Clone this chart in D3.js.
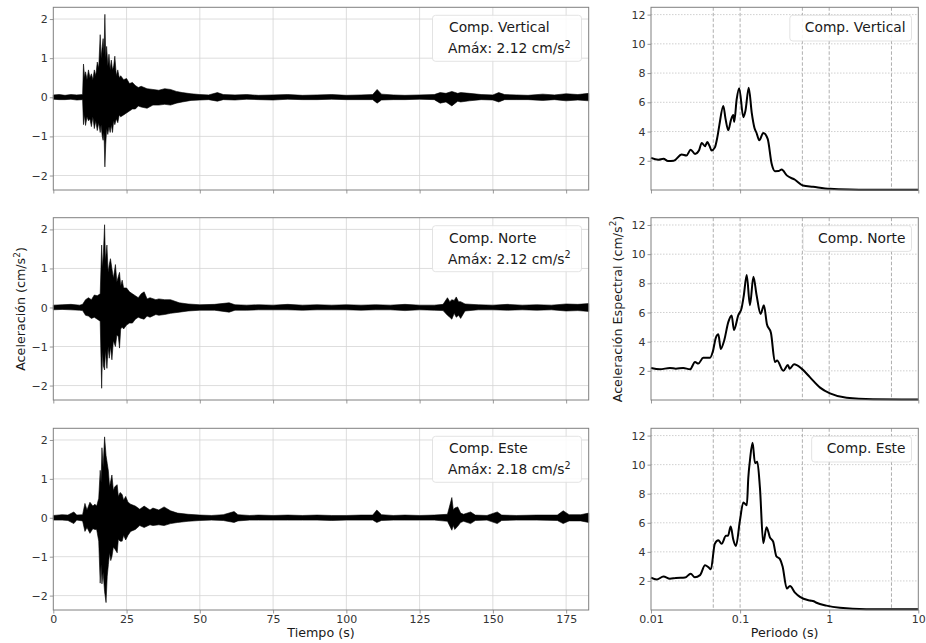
<!DOCTYPE html>
<html>
<head>
<meta charset="utf-8">
<script src="https://cdn.jsdelivr.net/npm/d3@7"></script>
<style>
  body { margin: 0; background: #fff; }
  text { font-family: "DejaVu Sans", sans-serif; }
</style>
</head>
<body>
<svg id="chart" width="926" height="643"></svg>
<script>
// component names and peak accelerations
const compNames = ["Comp. Vertical", "Comp. Norte", "Comp. Este"];
const amax = [2.12, 2.12, 2.18];

// accelerogram envelopes (time s, upper / lower cm/s2)
const tVert = [0, 2, 4, 6, 8, 10, 10.3, 10.7, 11, 11.5, 12, 12.5, 13, 13.5, 14, 14.5, 15, 15.5, 16, 16.3, 16.7, 17, 17.3, 17.6, 17.9, 18.2, 18.6, 19, 19.4, 19.8, 20.2, 20.6, 21, 21.5, 22, 22.5, 23, 24, 25, 26, 27, 28, 29, 30, 32, 34, 36, 38, 40, 42, 44, 47, 50, 53, 56, 58, 62, 66, 70, 75, 80, 85, 90, 95, 100, 105, 109, 110.5, 112, 116, 120, 125, 130, 132, 134, 136, 138, 139, 142, 146, 150, 152, 154, 158, 162, 167, 171, 175, 179, 182.7];
const upVert = [.06, .07, .05, .07, .06, .07, .85, .5, .65, .45, .7, .5, .6, .45, .7, .55, .9, .75, 1.6, 1.0, 1.3, 1.5, 1.1, 2.12, 1.0, 1.3, .8, 1.1, .7, .95, .7, .8, 1.05, .55, .7, .5, .55, .45, .48, .35, .38, .3, .25, .28, .22, .2, .18, .22, .2, .15, .12, .09, .07, .06, .12, .07, .06, .07, .05, .06, .07, .05, .06, .07, .05, .06, .07, .2, .08, .06, .05, .06, .07, .12, .1, .15, .1, .12, .1, .07, .06, .12, .07, .06, .05, .08, .06, .09, .07, .1];
const loVert = [-.05, -.06, -.06, -.05, -.07, -.06, -.7, -.45, -.72, -.5, -.6, -.55, -.75, -.5, -.8, -.6, -.85, -.65, -.9, -.7, -1.0, -1.1, -.9, -1.78, -1.2, -.8, -.95, -.75, -.9, -.7, -.9, -.6, -.7, -.55, -.65, -.45, -.5, -.45, -.4, -.35, -.3, -.3, -.22, -.25, -.28, -.2, -.2, -.18, -.2, -.15, -.12, -.08, -.07, -.06, -.1, -.06, -.07, -.05, -.06, -.07, -.05, -.06, -.06, -.05, -.06, -.06, -.06, -.15, -.07, -.06, -.06, -.05, -.06, -.15, -.12, -.22, -.1, -.12, -.09, -.06, -.07, -.12, -.06, -.06, -.06, -.08, -.06, -.09, -.07, -.09];

const tNorte = [0, 3, 6, 9, 10, 11, 12, 13, 14, 15, 16, 16.5, 16.8, 17.1, 17.5, 17.8, 18.3, 18.7, 19.1, 19.5, 20, 20.5, 21.2, 21.7, 22.2, 22.6, 23, 23.5, 24, 25, 26, 27, 28, 29, 30, 31, 32, 33, 35, 36, 38, 40, 43, 46, 50, 55, 60, 62, 66, 70, 75, 80, 85, 90, 95, 100, 105, 110, 115, 120, 125, 130, 133, 134.5, 135.3, 136, 136.8, 137.5, 138.3, 139, 140.5, 145, 150, 155, 160, 165, 170, 175, 179, 182.7];
const upNorte = [.06, .07, .08, .06, .08, .2, .25, .2, .32, .3, .35, 1.6, 1.0, 1.4, 2.12, 1.2, 1.6, .9, 1.1, 1.25, 1.0, .75, 1.1, .65, .8, .9, .55, .7, .5, .5, .4, .35, .3, .25, .35, .4, .22, .25, .2, .22, .2, .2, .12, .09, .07, .08, .12, .07, .06, .07, .06, .08, .06, .07, .06, .07, .06, .07, .06, .08, .06, .06, .08, .25, .15, .2, .18, .27, .15, .15, .09, .07, .06, .08, .06, .07, .06, .09, .08, .1];
const loNorte = [-.06, -.05, -.06, -.07, -.08, -.2, -.22, -.28, -.25, -.3, -.35, -2.07, -1.1, -1.5, -1.6, -1.1, -1.56, -1.0, -1.3, -1.0, -1.34, -.85, -1.0, -.7, -.75, -1.04, -.55, -.5, -.55, -.45, -.4, -.4, -.3, -.25, -.28, -.3, -.22, -.25, -.18, -.2, -.18, -.15, -.12, -.09, -.07, -.07, -.12, -.07, -.07, -.06, -.06, -.06, -.07, -.06, -.06, -.06, -.07, -.06, -.06, -.08, -.06, -.07, -.08, -.2, -.25, -.3, -.15, -.25, -.2, -.28, -.09, -.06, -.06, -.07, -.06, -.07, -.06, -.09, -.08, -.1];

const tEste = [0, 3, 5, 7, 8, 10, 10.8, 11.5, 12.5, 13.5, 14.2, 14.8, 15.5, 16, 16.3, 16.6, 17, 17.5, 18, 18.4, 18.8, 19.2, 19.6, 20, 20.5, 21, 21.8, 22.2, 22.8, 23.5, 24, 24.7, 25.5, 26.4, 28, 29.5, 31, 33, 34, 36, 37.8, 40, 42.4, 46, 50, 54, 58, 61.7, 63, 67, 70, 75, 80, 85, 90, 95, 100, 105, 109, 110.4, 112, 116, 120, 125, 130, 134.5, 136, 136.5, 137, 138, 139, 140, 142.4, 144, 148, 151.5, 153, 158, 165, 172, 174, 176, 180, 182.7];
const upEste = [.06, .08, .07, .15, .07, .08, .37, .2, .4, .3, .35, .3, .5, 1.22, .9, 1.8, 1.3, 2.08, 1.6, 1.4, 1.2, .8, .95, 1.1, .7, .8, .85, .55, .65, .6, .45, .55, .4, .35, .3, .22, .3, .2, .25, .2, .28, .18, .12, .09, .07, .06, .08, .16, .08, .06, .07, .06, .07, .06, .07, .06, .06, .07, .07, .2, .08, .06, .07, .06, .07, .09, .52, .2, .25, .28, .12, .09, .15, .07, .06, .15, .07, .06, .07, .07, .18, .08, .08, .12];
const loEste = [-.06, -.06, -.07, -.15, -.06, -.08, -.35, -.25, -.4, -.28, -.3, -.3, -.6, -1.68, -1.2, -1.7, -1.4, -1.9, -2.18, -1.5, -1.2, -.9, -1.1, -1.0, -.75, -.8, -.9, -.55, -.6, -.6, -.45, -.57, -.45, -.35, -.3, -.2, -.25, -.18, -.2, -.18, -.2, -.15, -.12, -.09, -.07, -.06, -.07, -.12, -.08, -.06, -.06, -.06, -.06, -.06, -.06, -.07, -.06, -.06, -.06, -.12, -.07, -.06, -.06, -.06, -.06, -.09, -.32, -.2, -.3, -.22, -.12, -.09, -.15, -.07, -.06, -.15, -.07, -.06, -.06, -.07, -.15, -.08, -.08, -.12];

// response spectra (period s, spectral acceleration cm/s2)
const perVert = [0.01, 0.0121, 0.0138, 0.0155, 0.018, 0.0221, 0.025, 0.0279, 0.0312, 0.0345, 0.0371, 0.0404, 0.0428, 0.0455, 0.0478, 0.052, 0.0555, 0.0585, 0.0648, 0.0685, 0.0737, 0.079, 0.0838, 0.0859, 0.0915, 0.0977, 0.1087, 0.115, 0.125, 0.135, 0.145, 0.153, 0.164, 0.182, 0.204, 0.226, 0.246, 0.27, 0.293, 0.334, 0.413, 0.507, 0.66, 1.02, 1.7, 3, 10];
const saVert = [2.2, 2.07, 2.14, 1.98, 2.0, 2.43, 2.36, 2.76, 2.47, 2.7, 3.22, 3.0, 3.28, 3.0, 2.7, 2.9, 3.6, 4.44, 5.75, 4.9, 4.09, 4.8, 5.13, 4.66, 6.2, 6.97, 4.98, 5.45, 7.0, 5.3, 4.25, 3.9, 3.4, 3.9, 3.5, 1.79, 1.29, 1.3, 1.4, 1.0, 0.7, 0.31, 0.22, 0.08, 0.03, 0.02, 0.02];

const perNorte = [0.01, 0.0126, 0.0163, 0.019, 0.023, 0.0274, 0.0312, 0.034, 0.0386, 0.046, 0.0493, 0.0536, 0.057, 0.0606, 0.0664, 0.0737, 0.0804, 0.0853, 0.0953, 0.104, 0.110, 0.1186, 0.129, 0.141, 0.153, 0.170, 0.185, 0.2, 0.222, 0.246, 0.26, 0.305, 0.344, 0.36, 0.403, 0.49, 0.61, 0.79, 1.02, 1.57, 3.1, 10];
const saNorte = [2.2, 2.1, 2.2, 2.15, 2.2, 2.1, 2.6, 2.5, 2.9, 2.9, 3.3, 4.3, 4.5, 3.5, 4.1, 5.34, 5.8, 4.8, 5.8, 6.3, 7.16, 8.57, 6.5, 8.45, 7.2, 5.9, 6.5, 5.2, 4.6, 2.6, 2.7, 2.0, 2.4, 2.15, 2.45, 2.15, 1.55, 0.85, 0.45, 0.15, 0.05, 0.03];

const perEste = [0.01, 0.0116, 0.0138, 0.0163, 0.019, 0.0241, 0.0279, 0.031, 0.0355, 0.0404, 0.044, 0.047, 0.052, 0.057, 0.062, 0.0694, 0.073, 0.0785, 0.0838, 0.0898, 0.0995, 0.1087, 0.119, 0.1236, 0.129, 0.138, 0.147, 0.156, 0.167, 0.182, 0.198, 0.216, 0.235, 0.255, 0.28, 0.30, 0.334, 0.363, 0.413, 0.47, 0.61, 0.67, 0.72, 0.93, 1.32, 2.6, 10];
const saEste = [2.23, 2.1, 2.3, 2.15, 2.2, 2.23, 2.5, 2.25, 2.4, 3.07, 2.95, 2.8, 4.55, 4.8, 4.55, 5.1, 5.1, 5.74, 4.85, 4.4, 6.15, 7.4, 7.2, 9.1, 10.3, 11.5, 10.1, 10.2, 8.4, 4.6, 5.7, 5.0, 4.7, 3.7, 3.5, 3.0, 1.48, 1.65, 1.2, 0.9, 0.65, 0.6, 0.5, 0.3, 0.15, 0.06, 0.05];

// tick values
const timeTicks = [0, 25, 50, 75, 100, 125, 150, 175];
const accTicks = [-2, -1, 0, 1, 2];
const perTicks = [0.01, 0.1, 1, 10];
const perGrid = [0.05, 0.1, 0.5, 1, 5];
const saTicks = [2, 4, 6, 8, 10, 12];

const acc = [
  { t: tVert, up: upVert, lo: loVert },
  { t: tNorte, up: upNorte, lo: loNorte },
  { t: tEste, up: upEste, lo: loEste }
];
const spec = [
  { p: perVert, sa: saVert },
  { p: perNorte, sa: saNorte },
  { p: perEste, sa: saEste }
];

const svg = d3.select("#chart");
const rows = [[7.3, 190], [217.7, 400], [428.3, 610]];
const L = [53.3, 588.7], R = [651, 918.3];

const xT = d3.scaleLinear().domain([0, 182.7]).range(L);
const xP = d3.scaleLog().domain([0.01, 10]).range(R);

const tickColor = "#333", spineColor = "#808080";

function styleAxis(g) {
  g.select(".domain").remove();
  g.selectAll(".tick line").attr("stroke", spineColor).attr("stroke-width", 0.8);
  g.selectAll(".tick text").attr("fill", tickColor).style("font-size", "11px")
    .style("font-family", "DejaVu Sans");
}

function addSup(sel, base, sup, tail, size) {
  sel.append("tspan").text(base);
  sel.append("tspan").attr("dy", -size * 0.4).style("font-size", (size * 0.7) + "px").text(sup);
  if (tail) sel.append("tspan").attr("dy", size * 0.4).text(tail);
}

rows.forEach(([top, bot], i) => {
  const yA = d3.scaleLinear().domain([-2.37, 2.30]).range([bot, top]);
  const yS = d3.scaleLinear().domain([0, 12.5]).range([bot, top]);

  // ---- left: accelerogram ----
  const gl = svg.append("g");
  gl.append("g").selectAll("line").data(timeTicks.slice(1)).join("line")
    .attr("x1", d => xT(d)).attr("x2", d => xT(d)).attr("y1", top).attr("y2", bot)
    .attr("stroke", "#d4d4d4").attr("stroke-width", 0.8);
  gl.append("g").selectAll("line").data(accTicks).join("line")
    .attr("x1", L[0]).attr("x2", L[1]).attr("y1", d => yA(d)).attr("y2", d => yA(d))
    .attr("stroke", "#d4d4d4").attr("stroke-width", 0.8);

  const rec = acc[i].t.map((t, k) => ({ t, up: acc[i].up[k], lo: acc[i].lo[k] }));
  const area = d3.area().x(d => xT(d.t)).y0(d => yA(d.lo)).y1(d => yA(d.up));
  gl.append("path").datum(rec).attr("d", area)
    .attr("fill", "#000").attr("stroke", "#000").attr("stroke-width", 0.6).attr("stroke-linejoin", "miter");

  gl.append("rect").attr("x", L[0]).attr("y", top).attr("width", L[1] - L[0]).attr("height", bot - top)
    .attr("fill", "none").attr("stroke", spineColor).attr("stroke-width", 1);

  gl.append("g").attr("transform", `translate(${L[0]},0)`)
    .call(d3.axisLeft(yA).tickValues(accTicks).tickSize(3.5).tickPadding(2).tickFormat(d3.format("d")))
    .call(styleAxis);
  const axB = d3.axisBottom(xT).tickValues(timeTicks).tickSize(3.5).tickPadding(2);
  if (i < 2) axB.tickFormat("");
  gl.append("g").attr("transform", `translate(0,${bot})`).call(axB).call(styleAxis);

  // legend box
  const lg = gl.append("g");
  const box = lg.append("rect").attr("rx", 3).attr("fill", "#fff").attr("fill-opacity", 0.85)
    .attr("stroke", "#dcdcdc").attr("stroke-width", 0.8);
  const t1 = lg.append("text").attr("x", 449).attr("y", top + 25).style("font-size", "13.8px")
    .attr("fill", "#1a1a1a").text(compNames[i]);
  const t2 = lg.append("text").attr("x", 448).attr("y", top + 46).style("font-size", "13.8px")
    .attr("fill", "#1a1a1a");
  addSup(t2, `Amáx: ${amax[i].toFixed(2)} cm/s`, "2", null, 13.8);
  const w = Math.max(t1.node().getComputedTextLength(), t2.node().getBBox().width);
  const bx1 = 581.5, bx0 = 448 - 15.5;
  box.attr("x", bx0).attr("y", top + 8).attr("width", Math.max(bx1 - bx0, w + 19)).attr("height", 46);

  // ---- right: response spectrum ----
  const gr = svg.append("g");
  gr.append("g").selectAll("line").data(saTicks).join("line")
    .attr("x1", R[0]).attr("x2", R[1]).attr("y1", d => yS(d)).attr("y2", d => yS(d))
    .attr("stroke", "#c4c4c4").attr("stroke-width", 0.8).attr("stroke-dasharray", "1.5,1.5");
  gr.append("g").selectAll("line").data(perGrid).join("line")
    .attr("x1", d => xP(d)).attr("x2", d => xP(d)).attr("y1", top).attr("y2", bot)
    .attr("stroke", "#9a9a9a").attr("stroke-width", 0.8).attr("stroke-dasharray", "3.5,2");

  const sp = spec[i].p.map((p, k) => ({ p, sa: spec[i].sa[k] }));
  const line = d3.line().x(d => xP(d.p)).y(d => yS(d.sa)).curve(d3.curveMonotoneX);
  gr.append("path").datum(sp).attr("d", line).attr("fill", "none")
    .attr("stroke", "#000").attr("stroke-width", 2).attr("stroke-linejoin", "round");

  gr.append("rect").attr("x", R[0]).attr("y", top).attr("width", R[1] - R[0]).attr("height", bot - top)
    .attr("fill", "none").attr("stroke", spineColor).attr("stroke-width", 1);

  gr.append("g").attr("transform", `translate(${R[0]},0)`)
    .call(d3.axisLeft(yS).tickValues(saTicks).tickSize(3.5).tickPadding(2).tickFormat(d3.format("d")))
    .call(styleAxis);
  const axP = d3.axisBottom(xP).tickValues(perTicks).tickSize(3.5).tickPadding(2)
    .tickFormat(i < 2 ? "" : d => String(d));
  gr.append("g").attr("transform", `translate(0,${bot})`).call(axP).call(styleAxis);

  const rg = gr.append("g");
  const rbox = rg.append("rect").attr("rx", 3).attr("fill", "#fff").attr("fill-opacity", 0.85)
    .attr("stroke", "#dcdcdc").attr("stroke-width", 0.8);
  const rt = rg.append("text").attr("x", 905.5).attr("y", top + 25).attr("text-anchor", "end")
    .style("font-size", "13.8px").attr("fill", "#1a1a1a").text(compNames[i]);
  const rw = rt.node().getComputedTextLength();
  rbox.attr("x", 905.5 - rw - 15).attr("y", top + 8).attr("width", rw + 21).attr("height", 25.7);
});

// axis labels
const yl = svg.append("text").attr("transform", "translate(25,309) rotate(-90)")
  .attr("text-anchor", "middle").style("font-size", "12.7px").attr("fill", "#1a1a1a");
addSup(yl, "Aceleración (cm/s", "2", ")", 12.7);
const yr = svg.append("text").attr("transform", "translate(621.5,309) rotate(-90)")
  .attr("text-anchor", "middle").style("font-size", "12.7px").attr("fill", "#1a1a1a");
addSup(yr, "Aceleración Espectral (cm/s", "2", ")", 12.7);

svg.append("text").attr("x", (L[0] + L[1]) / 2).attr("y", 637).attr("text-anchor", "middle")
  .style("font-size", "12.7px").attr("fill", "#1a1a1a").text("Tiempo (s)");
svg.append("text").attr("x", (R[0] + R[1]) / 2).attr("y", 637).attr("text-anchor", "middle")
  .style("font-size", "12.7px").attr("fill", "#1a1a1a").text("Periodo (s)");
</script>
</body>
</html>
